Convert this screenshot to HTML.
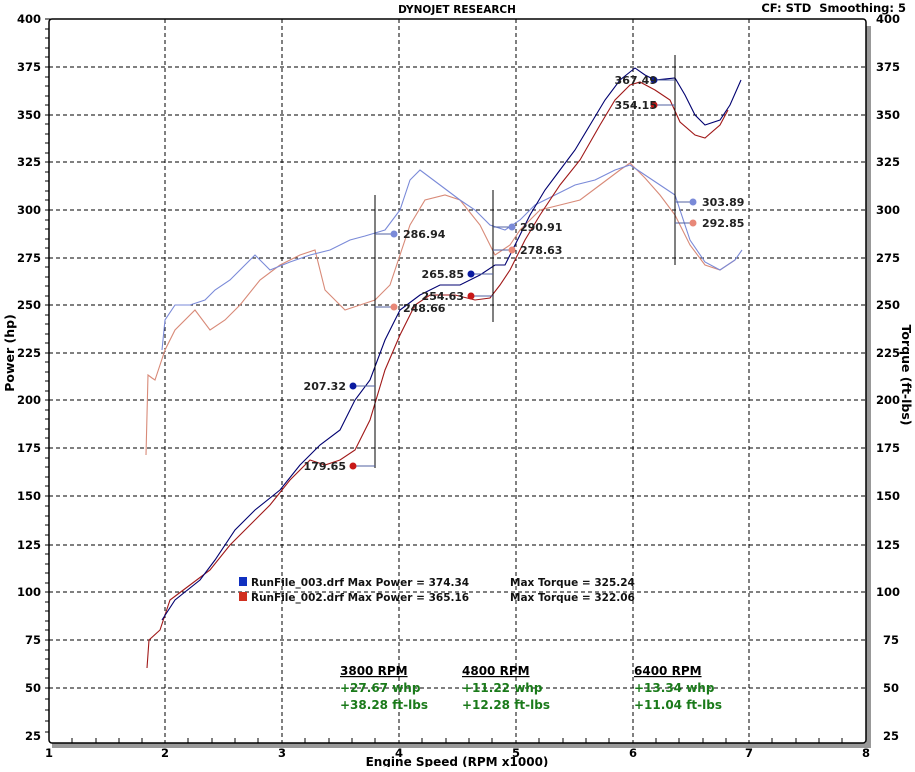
<!DOCTYPE html>
<html><head><style>
body{margin:0;background:#fff;width:915px;height:767px;overflow:hidden}
svg{font-family:"DejaVu Sans","Liberation Sans",sans-serif;font-weight:bold}
</style></head><body>
<svg width="915" height="767" xmlns="http://www.w3.org/2000/svg">
<rect x="52" y="743" width="816" height="5" fill="#999"/>
<rect x="866" y="26" width="5" height="722" fill="#999"/>
<rect x="49" y="19" width="817" height="724" fill="#fff" stroke="#000" stroke-width="1.5" rx="3"/>
<g stroke="#000" stroke-dasharray="4,3" stroke-width="1">
<path d="M165 19V743M282 19V743M399 19V743M516 19V743M633 19V743M749 19V743"/>
<path d="M49 67H866M49 115H866M49 162H866M49 210H866M49 258H866M49 305H866M49 353H866M49 400H866M49 448H866M49 496H866M49 545H866M49 592H866M49 640H866M49 688H866"/>
</g>
<g stroke="#000" stroke-width="1">
<path d="M45 19H53M45 29H49M45 38H49M45 48H49M45 57H49M45 67H53M45 77H49M45 86H49M45 96H49M45 105H49M45 115H53M45 124H49M45 134H49M45 143H49M45 153H49M45 162H53M45 172H49M45 181H49M45 191H49M45 200H49M45 210H53M45 220H49M45 229H49M45 239H49M45 248H49M45 258H53M45 267H49M45 277H49M45 286H49M45 296H49M45 305H53M45 315H49M45 324H49M45 334H49M45 343H49M45 353H53M45 362H49M45 372H49M45 381H49M45 391H49M45 400H53M45 410H49M45 419H49M45 429H49M45 438H49M45 448H53M45 458H49M45 467H49M45 477H49M45 486H49M45 496H53M45 506H49M45 516H49M45 525H49M45 535H49M45 545H53M45 554H49M45 564H49M45 573H49M45 583H49M45 592H53M45 602H49M45 611H49M45 621H49M45 630H49M45 640H53M45 650H49M45 659H49M45 669H49M45 678H49M45 688H53M45 699H49M45 710H49M45 721H49M45 732H49"/>
<path d="M72 738V743M96 738V743M119 738V743M142 738V743M188 738V743M212 738V743M235 738V743M258 738V743M305 738V743M329 738V743M352 738V743M375 738V743M422 738V743M446 738V743M469 738V743M492 738V743M539 738V743M563 738V743M586 738V743M609 738V743M656 738V743M679 738V743M703 738V743M726 738V743M772 738V743M796 738V743M819 738V743M842 738V743"/>
</g>
<g font-size="11.5" fill="#000" text-anchor="end">
<text x="41" y="23">400</text><text x="41" y="71">375</text><text x="41" y="119">350</text><text x="41" y="166">325</text><text x="41" y="214">300</text><text x="41" y="262">275</text><text x="41" y="309">250</text><text x="41" y="357">225</text><text x="41" y="404">200</text><text x="41" y="452">175</text><text x="41" y="500">150</text><text x="41" y="549">125</text><text x="41" y="596">100</text><text x="41" y="644">75</text><text x="41" y="692">50</text><text x="41" y="740">25</text>
</g>
<g font-size="11.5" fill="#000">
<text x="876" y="23">400</text><text x="876" y="71">375</text><text x="876" y="119">350</text><text x="876" y="166">325</text><text x="876" y="214">300</text><text x="876" y="262">275</text><text x="876" y="309">250</text><text x="876" y="357">225</text><text x="876" y="404">200</text><text x="876" y="452">175</text><text x="876" y="500">150</text><text x="876" y="549">125</text><text x="876" y="596">100</text><text x="883" y="644">75</text><text x="883" y="692">50</text><text x="883" y="740">25</text>
</g>
<g font-size="11.5" text-anchor="middle">
<text x="49" y="757">1</text><text x="165" y="757">2</text><text x="282" y="757">3</text><text x="399" y="757">4</text><text x="516" y="757">5</text><text x="633" y="757">6</text><text x="749" y="757">7</text><text x="866" y="757">8</text>
<text x="457" y="766" font-size="12">Engine Speed (RPM x1000)</text>
<text x="457" y="13" font-size="10.5">DYNOJET RESEARCH</text>
</g>
<text x="906" y="12" font-size="11.5" text-anchor="end" xml:space="preserve">CF: STD  Smoothing: 5</text>
<text transform="translate(14,353) rotate(-90)" font-size="12.5" text-anchor="middle">Power (hp)</text>
<text transform="translate(902,375) rotate(90)" font-size="12.5" text-anchor="middle">Torque (ft-lbs)</text>
<g fill="none" stroke-width="1.1">
<polyline stroke="#d88a78" points="146,455 148,375 152,378 155,380 165,350 175,330 195,310 210,330 225,320 240,305 260,280 280,265 300,255 315,250 325,290 345,310 360,305 375,300 390,285 410,225 425,200 445,195 460,200 480,225 495,255 510,245 520,230 540,210 560,205 580,200 600,185 620,170 630,163 645,178 660,195 675,215 690,245 705,265 720,270 735,260"/>
<polyline stroke="#7a8ad8" points="162,350 165,320 175,305 190,305 205,300 215,290 230,280 245,265 255,255 270,270 290,262 310,255 330,250 350,240 365,236 385,230 400,210 410,180 420,170 440,185 460,200 475,210 490,225 505,230 520,220 535,205 555,195 575,185 595,180 615,170 630,165 645,175 660,185 675,195 690,240 705,262 720,270 735,260 742,250"/>
<polyline stroke="#a01818" points="147,668 149,640 160,630 170,600 190,585 210,570 230,545 250,525 270,505 290,480 310,460 325,465 340,460 355,450 370,420 385,370 400,335 415,305 430,295 455,295 475,300 490,298 500,285 510,270 525,240 540,215 560,185 580,160 600,125 615,100 630,85 640,82 655,90 670,100 680,122 695,135 705,138 720,125 728,110"/>
<polyline stroke="#000070" points="162,620 175,600 200,580 215,560 235,530 255,510 280,490 300,465 320,445 340,430 355,400 370,380 385,340 400,310 420,295 440,285 460,285 480,275 495,265 505,265 515,245 530,215 545,190 560,170 575,150 590,125 605,100 620,80 635,68 645,75 655,80 675,78 685,95 695,115 705,125 720,120 730,105 741,80"/>
</g>
<g stroke="#000" stroke-width="1"><path d="M375 195V468M493 190V322M675 55V265"/></g>
<g stroke-width="1">
<path d="M353 386H375M353 466H375M375 234H394M375 307H394M471 274H493M471 296H493M493 227H512M493 250H512M654 80H675M654 105H675M675 202H693M675 223H693" stroke="#5060a0"/>
</g>
<g>
<circle cx="353" cy="386" r="3.5" fill="#0a1aa0"/><circle cx="353" cy="466" r="3.5" fill="#c81818"/>
<circle cx="394" cy="234" r="3.5" fill="#7a8ad8"/><circle cx="394" cy="307" r="3.5" fill="#e88878"/>
<circle cx="471" cy="274" r="3.5" fill="#0a1aa0"/><circle cx="471" cy="296" r="3.5" fill="#c81818"/>
<circle cx="512" cy="227" r="3.5" fill="#7a8ad8"/><circle cx="512" cy="250" r="3.5" fill="#e88878"/>
<circle cx="654" cy="80" r="3.5" fill="#0a1aa0"/><circle cx="654" cy="105" r="3.5" fill="#c81818"/>
<circle cx="693" cy="202" r="3.5" fill="#7a8ad8"/><circle cx="693" cy="223" r="3.5" fill="#e88878"/>
</g>
<g font-size="11" fill="#222">
<text x="346" y="390" text-anchor="end">207.32</text><text x="346" y="470" text-anchor="end">179.65</text>
<text x="403" y="238">286.94</text><text x="403" y="312">248.66</text>
<text x="464" y="278" text-anchor="end">265.85</text><text x="464" y="300" text-anchor="end">254.63</text>
<text x="520" y="231">290.91</text><text x="520" y="254">278.63</text>
<text x="657" y="84" text-anchor="end">367.49</text><text x="657" y="109" text-anchor="end">354.15</text>
<text x="702" y="206">303.89</text><text x="702" y="227">292.85</text>
</g>
<rect x="239" y="577" width="8" height="9" fill="#1030c0"/><rect x="239" y="592" width="8" height="9" fill="#d03020"/>
<g font-size="10.5" fill="#111">
<text x="251" y="586">RunFile_003.drf Max Power = 374.34</text><text x="510" y="586">Max Torque = 325.24</text>
<text x="251" y="601">RunFile_002.drf Max Power = 365.16</text><text x="510" y="601">Max Torque = 322.06</text>
</g>
<g font-size="12">
<text x="340" y="675" fill="#000" text-decoration="underline">3800 RPM</text>
<text x="340" y="692" fill="#1a7a1a">+27.67 whp</text><text x="340" y="709" fill="#1a7a1a">+38.28 ft-lbs</text>
<text x="462" y="675" fill="#000" text-decoration="underline">4800 RPM</text>
<text x="462" y="692" fill="#1a7a1a">+11.22 whp</text><text x="462" y="709" fill="#1a7a1a">+12.28 ft-lbs</text>
<text x="634" y="675" fill="#000" text-decoration="underline">6400 RPM</text>
<text x="634" y="692" fill="#1a7a1a">+13.34 whp</text><text x="634" y="709" fill="#1a7a1a">+11.04 ft-lbs</text>
</g>
</svg>
</body></html>
